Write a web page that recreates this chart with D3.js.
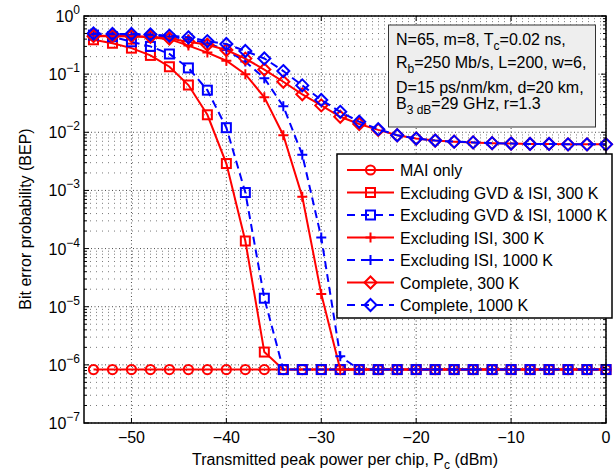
<!DOCTYPE html>
<html>
<head>
<meta charset="utf-8">
<script src="https://cdn.jsdelivr.net/npm/d3@7/dist/d3.min.js"></script>
<style>
  body { margin: 0; background: #fff; }
  svg { display: block; font-family: "Liberation Sans", Arial, Helvetica, sans-serif; }
</style>
</head>
<body>
<svg id="chart" width="616" height="473"></svg>
<script>
// ---------- data ----------
const powerDbm = [-54,-52,-50,-48,-46,-44,-42,-40,-38,-36,-34,-32,-30,-28,-26,-24,-22,-20,-18,-16,-14,-12,-10,-8,-6,-4,-2,0];
const maiOnly = [8.3e-7,8.3e-7,8.3e-7,8.3e-7,8.3e-7,8.3e-7,8.3e-7,8.3e-7,8.3e-7,8.3e-7,8.3e-7,8.3e-7,8.3e-7,8.3e-7,8.3e-7,8.3e-7,8.3e-7,8.3e-7,8.3e-7,8.3e-7,8.3e-7,8.3e-7,8.3e-7,8.3e-7,8.3e-7,8.3e-7,8.3e-7,8.3e-7];
const exclGvd300 = [0.39,0.34,0.28,0.21,0.134,0.065,0.020,0.0029,1.35e-4,1.66e-6,8.3e-7,8.3e-7,8.3e-7,8.3e-7,8.3e-7,8.3e-7,8.3e-7,8.3e-7,8.3e-7,8.3e-7,8.3e-7,8.3e-7,8.3e-7,8.3e-7,8.3e-7,8.3e-7,8.3e-7,8.3e-7];
const exclGvd1000 = [0.47,0.44,0.36,0.30,0.222,0.128,0.053,0.012,9.2e-4,1.4e-5,8.3e-7,8.3e-7,8.3e-7,8.3e-7,8.3e-7,8.3e-7,8.3e-7,8.3e-7,8.3e-7,8.3e-7,8.3e-7,8.3e-7,8.3e-7,8.3e-7,8.3e-7,8.3e-7,8.3e-7,8.3e-7];
const exclIsi300 = [0.46,0.455,0.45,0.43,0.40,0.31,0.235,0.17,0.1,0.04,0.0089,7.8e-4,1.65e-5,8.3e-7,8.3e-7,8.3e-7,8.3e-7,8.3e-7,8.3e-7,8.3e-7,8.3e-7,8.3e-7,8.3e-7,8.3e-7,8.3e-7,8.3e-7,8.3e-7,8.3e-7];
const exclIsi1000 = [0.49,0.48,0.47,0.46,0.44,0.40,0.34,0.26,0.165,0.085,0.028,0.0041,1.55e-4,1.4e-6,8.3e-7,8.3e-7,8.3e-7,8.3e-7,8.3e-7,8.3e-7,8.3e-7,8.3e-7,8.3e-7,8.3e-7,8.3e-7,8.3e-7,8.3e-7,8.3e-7];
const complete300 = [0.45,0.45,0.45,0.44,0.41,0.36,0.32,0.26,0.185,0.12,0.074,0.045,0.029,0.0185,0.0139,0.011,0.0089,0.0078,0.0072,0.0069,0.0067,0.0065,0.0064,0.0063,0.0063,0.0062,0.0062,0.0062];
const complete1000 = [0.50,0.49,0.49,0.48,0.46,0.43,0.37,0.33,0.25,0.186,0.113,0.064,0.036,0.0225,0.0152,0.0113,0.0089,0.0078,0.0072,0.0069,0.0067,0.0065,0.0064,0.0063,0.0063,0.0062,0.0062,0.0062];

const seriesNames = ["MAI only","Excluding GVD & ISI, 300 K","Excluding GVD & ISI, 1000 K","Excluding ISI, 300 K","Excluding ISI, 1000 K","Complete, 300 K","Complete, 1000 K"];
const seriesValues = [maiOnly, exclGvd300, exclGvd1000, exclIsi300, exclIsi1000, complete300, complete1000];
const seriesMarkers = ["circle","square","square","plus","plus","diamond","diamond"];
const seriesColors = ["#ff0000","#ff0000","#0000ff","#ff0000","#0000ff","#ff0000","#0000ff"];
const seriesDashed = [false,false,true,false,true,false,true];

const xTicks = [-50,-40,-30,-20,-10,0];
const yTickExponents = [0,-1,-2,-3,-4,-5,-6,-7];
const annotationLines = [
  [["N=65, m=8, T",0],["c",1],["=0.02 ns,",0]],
  [["R",0],["b",1],["=250 Mb/s, L=200, w=6,",0]],
  [["D=15 ps/nm/km, d=20 km,",0]],
  [["B",0],["3 dB",1],["=29 GHz, r=1.3",0]]
];

// ---------- layout ----------
const svg = d3.select("#chart");
const L = 84, R = 606, T = 16, B = 423;
const x = d3.scaleLinear().domain([-55, 0]).range([L, R]);
const y = d3.scaleLog().domain([1e-7, 1]).range([B, T]);

// grid
const grid = svg.append("g");
const minorY = [];
for (let e = -7; e < 0; e++) for (let k = 1; k <= 9; k++) minorY.push(k * Math.pow(10, e));
minorY.push(1);
minorY.forEach(v => {
  const major = Math.abs(Math.log10(v) - Math.round(Math.log10(v))) < 1e-9;
  grid.append("line")
    .attr("x1", L).attr("x2", R).attr("y1", y(v)).attr("y2", y(v))
    .attr("stroke", "#222").attr("stroke-width", 1)
    .attr("stroke-dasharray", major ? "1,2.5" : "1,5")
    .attr("opacity", major ? 0.8 : 0.6);
});
xTicks.forEach(v => {
  grid.append("line")
    .attr("x1", x(v)).attr("x2", x(v)).attr("y1", T).attr("y2", B)
    .attr("stroke", "#222").attr("stroke-width", 1)
    .attr("stroke-dasharray", "1,2.5").attr("opacity", 0.8);
});

// marker drawing
function drawMarker(g, type, cx, cy, color) {
  if (type === "circle") {
    g.append("circle").attr("cx", cx).attr("cy", cy).attr("r", 4.6)
      .attr("fill", "none").attr("stroke", color).attr("stroke-width", 2);
  } else if (type === "square") {
    g.append("rect").attr("x", cx - 4.5).attr("y", cy - 4.5).attr("width", 9).attr("height", 9)
      .attr("fill", "none").attr("stroke", color).attr("stroke-width", 2);
  } else if (type === "diamond") {
    const s = 6;
    g.append("path").attr("d", `M${cx},${cy - s}L${cx + s},${cy}L${cx},${cy + s}L${cx - s},${cy}Z`)
      .attr("fill", "none").attr("stroke", color).attr("stroke-width", 2);
  } else if (type === "plus") {
    const s = 5;
    g.append("path").attr("d", `M${cx - s},${cy}H${cx + s}M${cx},${cy - s}V${cy + s}`)
      .attr("fill", "none").attr("stroke", color).attr("stroke-width", 2);
  }
}

// series
const plot = svg.append("g");
const lineGen = d3.line().x(d => x(d[0])).y(d => y(d[1]));
seriesValues.forEach((vals, i) => {
  const g = plot.append("g");
  const pts = powerDbm.map((p, j) => [p, vals[j]]);
  g.append("path").attr("d", lineGen(pts))
    .attr("fill", "none").attr("stroke", seriesColors[i]).attr("stroke-width", 2)
    .attr("stroke-dasharray", seriesDashed[i] ? "8,5" : null);
  pts.forEach(p => drawMarker(g, seriesMarkers[i], x(p[0]), y(p[1]), seriesColors[i]));
});

// axes box and ticks
const ax = svg.append("g");
ax.append("rect").attr("x", L).attr("y", T).attr("width", R - L).attr("height", B - T)
  .attr("fill", "none").attr("stroke", "#000").attr("stroke-width", 1.5);
xTicks.forEach(v => {
  ax.append("line").attr("x1", x(v)).attr("x2", x(v)).attr("y1", B).attr("y2", B - 5).attr("stroke", "#000");
  ax.append("line").attr("x1", x(v)).attr("x2", x(v)).attr("y1", T).attr("y2", T + 5).attr("stroke", "#000");
  ax.append("text").attr("x", x(v)).attr("y", 443).attr("text-anchor", "middle")
    .attr("font-size", 16).attr("fill", "#000")
    .text(v < 0 ? "\u2212" + Math.abs(v) : String(v));
});
minorY.forEach(v => {
  const major = Math.abs(Math.log10(v) - Math.round(Math.log10(v))) < 1e-9;
  const len = major ? 5 : 3;
  ax.append("line").attr("x1", L).attr("x2", L + len).attr("y1", y(v)).attr("y2", y(v)).attr("stroke", "#000");
  ax.append("line").attr("x1", R).attr("x2", R - len).attr("y1", y(v)).attr("y2", y(v)).attr("stroke", "#000");
});
yTickExponents.forEach(e => {
  const t = ax.append("text").attr("x", 80).attr("y", y(Math.pow(10, e)) + 6)
    .attr("text-anchor", "end").attr("font-size", 16).attr("fill", "#000");
  t.append("tspan").text("10");
  t.append("tspan").attr("dy", -8).attr("font-size", 12).text(e < 0 ? "\u2212" + Math.abs(e) : String(e));
});

// axis labels
svg.append("text").attr("transform", "translate(31,219) rotate(-90)")
  .attr("text-anchor", "middle").attr("font-size", 16).attr("fill", "#000")
  .text("Bit error probability (BEP)");
const xl = svg.append("text").attr("x", 345).attr("y", 465).attr("text-anchor", "middle")
  .attr("font-size", 16).attr("fill", "#000");
xl.append("tspan").text("Transmitted peak power per chip, P");
xl.append("tspan").attr("dy", 4).attr("font-size", 12).text("c");
xl.append("tspan").attr("dy", -4).text(" (dBm)");

// annotation box
const ann = svg.append("g");
ann.append("rect").attr("x", 388.5).attr("y", 25).attr("width", 207).attr("height", 102)
  .attr("fill", "#eeeeee").attr("stroke", "#333").attr("stroke-width", 1);
const annBase = [45, 68, 92.5, 108.5];
annotationLines.forEach((parts, i) => {
  const t = ann.append("text").attr("x", 396).attr("y", annBase[i]).attr("font-size", 16).attr("fill", "#000");
  let sub = false;
  parts.forEach(([s, isSub]) => {
    const ts = t.append("tspan").text(s);
    if (isSub && !sub) { ts.attr("dy", 5).attr("font-size", 12); sub = true; }
    else if (!isSub && sub) { ts.attr("dy", -5); sub = false; }
  });
});

// legend
const leg = svg.append("g");
leg.append("rect").attr("x", 337).attr("y", 154).attr("width", 275).attr("height", 164)
  .attr("fill", "#fff").attr("stroke", "#000").attr("stroke-width", 1.5);
seriesNames.forEach((name, i) => {
  const cy = 170 + i * 22.5;
  leg.append("line").attr("x1", 347).attr("x2", 394).attr("y1", cy).attr("y2", cy)
    .attr("stroke", seriesColors[i]).attr("stroke-width", 2)
    .attr("stroke-dasharray", seriesDashed[i] ? "8,6" : null);
  drawMarker(leg, seriesMarkers[i], 370.5, cy, seriesColors[i]);
  leg.append("text").attr("x", 400).attr("y", cy + 6).attr("font-size", 16).attr("fill", "#000").text(name);
});
</script>
</body>
</html>
